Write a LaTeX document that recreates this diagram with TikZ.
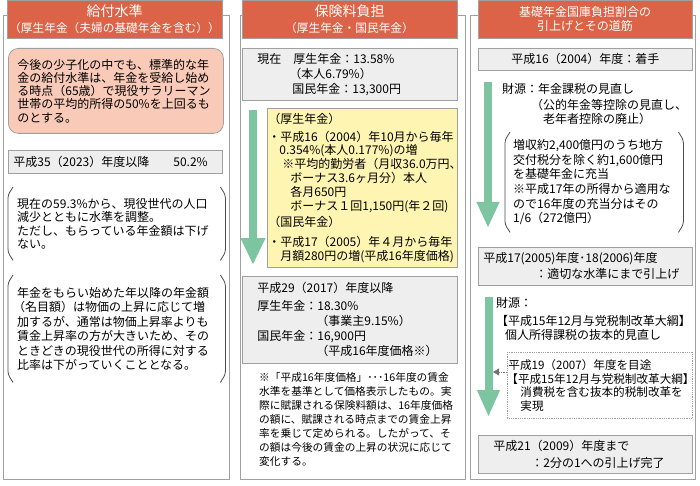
\documentclass[tikz,border=0pt]{standalone}
\usepackage{fontspec}
\setmainfont{Noto Sans CJK JP}
\usepackage{tikz}
\usetikzlibrary{arrows.meta, positioning}
\definecolor{headred}{HTML}{DC6347}
\definecolor{pinkfill}{HTML}{F9CAB8}
\definecolor{grayfill}{HTML}{EEEEEE}
\definecolor{yellowfill}{HTML}{FFF5B2}
\definecolor{arrowgreen}{HTML}{7DC4A1}
\definecolor{framegray}{HTML}{A0A0A0}

% bracket sides round a text node
\newcommand{\parenbox}[1]{%
  \draw[bracket] ([xshift=5pt]#1.north west) -- ([yshift=-8pt]#1.north west) -- ([yshift=8pt]#1.south west) -- ([xshift=5pt]#1.south west);
  \draw[bracket] ([xshift=-5pt]#1.north east) -- ([yshift=-8pt]#1.north east) -- ([yshift=8pt]#1.south east) -- ([xshift=-5pt]#1.south east);}

\begin{document}
\begin{tikzpicture}[
    x=1pt, y=-1pt,
    every node/.style={font=\fontsize{12}{13.5}\selectfont, inner sep=0pt},
    frame/.style={draw=framegray, line width=0.8pt},
    headbox/.style={
        rectangle,
        draw=framegray,
        fill=headred,
        text=white,
        align=center,
        minimum height=38pt
    },
    graybox/.style={
        rectangle,
        draw=framegray,
        fill=grayfill,
        line width=0.8pt,
        align=left,
        anchor=north west
    },
    pinkbox/.style={
        rectangle,
        rounded corners=10pt,
        draw=framegray,
        fill=pinkfill,
        line width=0.8pt,
        align=left,
        anchor=north west
    },
    yellowbox/.style={
        rectangle,
        draw=framegray,
        fill=yellowfill,
        line width=0.8pt,
        align=left,
        anchor=north west
    },
    parenbox/.style={rectangle, align=left, anchor=north west},
    dashbox/.style={rectangle, draw=framegray, densely dotted, line width=0.8pt, align=left, anchor=north west},
    bracket/.style={draw=black!70, line width=0.8pt, rounded corners=3pt},
    flow/.style={arrowgreen, line width=8pt, -{Triangle[length=27pt, width=23pt]}},
    dotarrow/.style={black!55, densely dotted, line width=0.8pt, -{Triangle[length=6pt, width=7pt]}}
]
\useasboundingbox (0,0) rectangle (700,486);

% FRAMES
\draw[frame] (3,15) rectangle (229,479);
\draw[frame] (240,15) rectangle (465,479);
\draw[frame] (470,15) rectangle (695,479);

% HEADERS
\node[headbox, minimum width=215pt, font=\fontsize{11.7}{16}\selectfont] (head1) at (114.5,19)
    {{\fontsize{14}{16}\selectfont 給付水準}\\（厚生年金（夫婦の基礎年金を含む））};
\node[headbox, minimum width=215pt, font=\fontsize{11.7}{16}\selectfont] (head2) at (349.5,19)
    {{\fontsize{14}{16}\selectfont 保険料負担}\\（厚生年金・国民年金）};
\node[headbox, minimum width=214pt, font=\fontsize{12}{14.5}\selectfont] (head3) at (585,19)
    {基礎年金国庫負担割合の\\引上げとその道筋};

% BENEFIT LEVEL
\node[pinkbox, text width=197pt, inner xsep=9pt, minimum height=85pt, font=\fontsize{12}{13.3}\selectfont] (goal) at (8,48)
    {今後の少子化の中でも、標準的な年\\金の給付水準は、年金を受給し始め\\る時点（65歳）で現役サラリーマン\\世帯の平均的所得の50\%を上回るも\\のとする。};
\node[graybox, text width=204pt, inner xsep=5pt, minimum height=23pt] (rate35) at (8,150)
    {平成35（2023）年度以降\hspace{24pt}50.2\%};
\node[parenbox, text width=199pt, inner xsep=9pt, minimum height=73pt] (now59) at (8,187)
    {現在の59.3\%から、現役世代の人口\\減少とともに水準を調整。\\ただし、もらっている年金額は下げ\\ない。};
\node[parenbox, text width=199pt, inner xsep=9pt, minimum height=107pt, font=\fontsize{12}{14.5}\selectfont] (nominal) at (8,275)
    {年金をもらい始めた年以降の年金額\\\hspace*{-4pt}（名目額）は物価の上昇に応じて増\\加するが、通常は物価上昇率よりも\\賃金上昇率の方が大きいため、その\\ときどきの現役世代の所得に対する\\比率は下がっていくこととなる。};
\parenbox{now59}
\parenbox{nominal}

% PREMIUMS
\node[graybox, text width=185pt, inner xsep=15pt, minimum height=52pt, font=\fontsize{12}{15}\selectfont] (premnow) at (242,48)
    {現在\hspace{12pt}厚生年金：13.58\%\\\hspace*{32pt}（本人6.79\%）\\\hspace*{35pt}国民年金：13,300円};
\node[yellowbox, text width=188pt, inner xsep=1pt, minimum height=159pt, font=\fontsize{12}{13.8}\selectfont] (raise) at (267,108)
    {（厚生年金）\\[4pt]
     ・平成16（2004）年10月から毎年\\
     \hspace*{11pt}0.354\%(本人0.177\%)の増\\
     \hspace*{14pt}※平均的勤労者（月収36.0万円、\\
     \hspace*{22pt}ボーナス3.6ヶ月分）本人\\
     \hspace*{22pt}各月650円\\
     \hspace*{22pt}ボーナス１回1,150円(年２回)\\[3pt]
     （国民年金）\\[6pt]
     ・平成17（2005）年４月から毎年\\
     \hspace*{12pt}月額280円の増(平成16年度価格)};
\node[graybox, text width=185pt, inner xsep=15pt, minimum height=87pt, font=\fontsize{12}{15}\selectfont] (prem29) at (242,276)
    {平成29（2017）年度以降\\[3pt]厚生年金：18.30\%\\\hspace*{59pt}（事業主9.15\%）\\国民年金：16,900円\\\hspace*{59pt}（平成16年度価格※）};
\node[anchor=north west, align=left, font=\fontsize{10.7}{14}\selectfont] (note) at (259,372)
    {※「平成16年度価格」･･･16年度の賃金\\水準を基準として価格表示したもの。実\\際に賦課される保険料額は、16年度価格\\の額に、賦課される時点までの賃金上昇\\率を乗じて定められる。したがって、そ\\の額は今後の賃金の上昇の状況に応じて\\変化する。};

% STATE SHARE
\node[graybox, align=center, text width=204pt, inner xsep=5pt, minimum height=22pt] (start04) at (478,48)
    {平成16（2004）年度：着手};
\node[anchor=north west, align=left, font=\fontsize{12}{14}\selectfont] (zaigen1) at (502,83)
    {財源：年金課税の見直し\\[2pt]\hspace*{29pt}（公的年金等控除の見直し、\\\hspace*{41pt}老年者控除の廃止）};
\node[parenbox, text width=162pt, inner xsep=8pt, minimum height=100pt, font=\fontsize{12}{14.6}\selectfont] (tax04) at (505,132)
    {増収約2,400億円のうち地方\\交付税分を除く約1,600億円\\を基礎年金に充当\\※平成17年の所得から適用な\\ので16年度の充当分はその\\1/6（272億円）};
\parenbox{tax04}
\node[graybox, text width=204pt, inner xsep=5pt, minimum height=38pt, font=\fontsize{12}{16}\selectfont] (up05) at (478,247)
    {平成17(2005)年度･18(2006)年度\\\hspace*{52pt}：適切な水準にまで引上げ};
\node[anchor=north west, align=left, font=\fontsize{12}{14}\selectfont] (zaigen2) at (496,297)
    {財源：\\[4pt]【平成15年12月与党税制改革大綱】\\\hspace*{9pt}個人所得課税の抜本的見直し};
\node[dashbox, text width=183pt, inner xsep=1pt, minimum height=66pt, font=\fontsize{11.6}{13.5}\selectfont] (target07) at (507,352)
    {平成19（2007）年度を目途\\\hspace*{-2pt}【平成15年12月与党税制改革大綱】\\\hspace*{12pt}消費税を含む抜本的税制改革を\\\hspace*{12pt}実現};
\node[graybox, text width=184pt, inner xsep=15pt, minimum height=38pt, font=\fontsize{12}{17}\selectfont] (done09) at (478,435)
    {平成21（2009）年度まで\\\hspace*{38pt}：2分の1への引上げ完了};

% ARROWS
\coordinate (flowA) at (253,110);
\coordinate (flowAend) at (253,265);
\coordinate (flowB) at (488,82);
\coordinate (flowBend) at (488,228);
\coordinate (flowC) at (488.5,297);
\coordinate (flowCend) at (488.5,417);
\coordinate (shaftC) at (493,372);
\draw[flow] (flowA) -- (flowAend);
\draw[flow, -{Triangle[length=26pt, width=21pt]}] (flowB) -- (flowBend);
\draw[flow, -{Triangle[length=27pt, width=21pt]}] (flowC) -- (flowCend);
\draw[dotarrow] (target07.west |- shaftC) -- (shaftC);

\end{tikzpicture}
\end{document}
